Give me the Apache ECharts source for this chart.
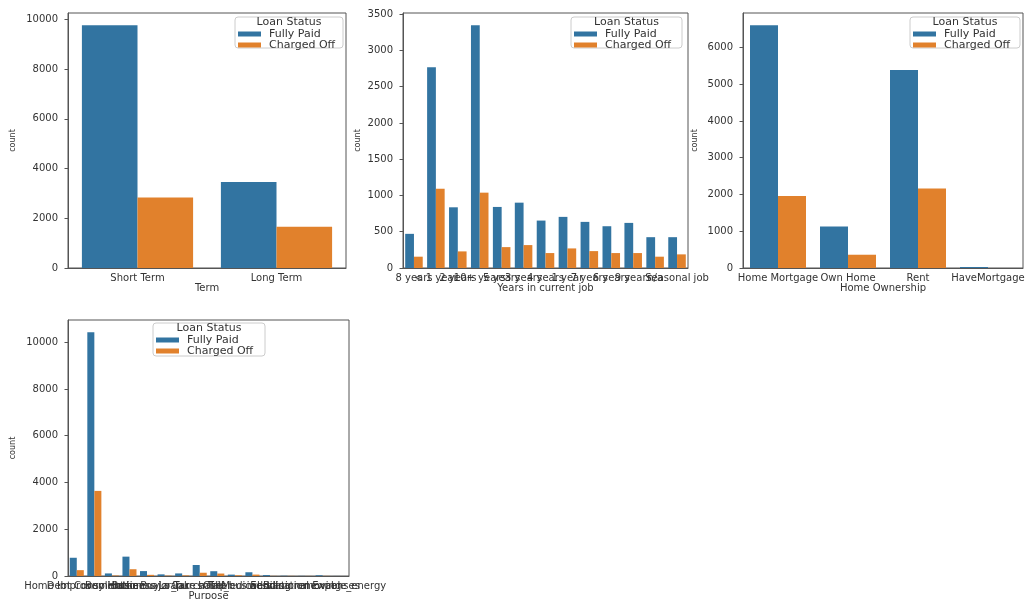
<!DOCTYPE html>
<html><head><meta charset="utf-8">
<script src="https://cdn.jsdelivr.net/npm/echarts@6/dist/echarts.min.js"></script>
<style>html,body{margin:0;padding:0;background:#fff}#c{width:1032px;height:599px}</style>
</head><body><div id="c"></div>
<script>
const statusNames = ['Fully Paid', 'Charged Off'];
const termCats = ['Short Term', 'Long Term'];
const termPaid = [9772, 3464];
const termOff = [2840, 1664];
const jobCats = ['8 years', '< 1 year', '2 years', '10+ years', '5 years', '3 years', '4 years', '1 year', '7 years', '6 years', '9 years', 'n/a', 'Seasonal job'];
const jobPaid = [471, 2768, 837, 3349, 842, 901, 654, 705, 636, 576, 622, 425, 425];
const jobOff = [156, 1093, 229, 1039, 288, 316, 206, 270, 233, 206, 206, 156, 188];
const homeCats = ['Home Mortgage', 'Own Home', 'Rent', 'HaveMortgage'];
const homePaid = [6605, 1128, 5386, 27];
const homeOff = [1958, 361, 2165, 0];
const purposeCats = ['Home Improvements', 'Debt Consolidation', 'Buy House', 'other', 'Business Loan', 'Buy a Car', 'major_purchase', 'Take a Trip', 'Other', 'small_business', 'Medical Bills', 'wedding', 'vacation', 'Educational Expenses', 'moving', 'renewable_energy'];
const purposePaid = [780, 10428, 110, 828, 210, 70, 110, 470, 205, 60, 160, 40, 10, 5, 30, 2];
const purposeOff = [250, 3640, 20, 290, 50, 15, 25, 140, 105, 30, 60, 5, 5, 3, 5, 0];
const termTicks = [0, 2000, 4000, 6000, 8000, 10000];
const jobTicks = [0, 500, 1000, 1500, 2000, 2500, 3000, 3500];
const homeTicks = [0, 1000, 2000, 3000, 4000, 5000, 6000];
const purposeTicks = [0, 2000, 4000, 6000, 8000, 10000];

const BLUE = '#3274a1', ORANGE = '#e1812c';
const FONT = 'DejaVu Sans';
const panels = [
  {cats: termCats, paid: termPaid, off: termOff, xname: 'Term', ticks: termTicks,
   grid: {left: 68, top: 13, width: 278, height: 255}, yGap: 51,
   leg: {x: 235, y: 17, w: 108, h: 31}},
  {cats: jobCats, paid: jobPaid, off: jobOff, xname: 'Years in current job', ticks: jobTicks,
   grid: {left: 403, top: 13, width: 285, height: 255}, yGap: 41,
   leg: {x: 571, y: 17, w: 111, h: 31}},
  {cats: homeCats, paid: homePaid, off: homeOff, xname: 'Home Ownership', ticks: homeTicks,
   grid: {left: 743, top: 13, width: 280, height: 255}, yGap: 44,
   leg: {x: 910, y: 17, w: 110, h: 31}},
  {cats: purposeCats, paid: purposePaid, off: purposeOff, xname: 'Purpose', ticks: purposeTicks,
   grid: {left: 68, top: 320, width: 281, height: 256}, yGap: 51,
   leg: {x: 153, y: 323, w: 112, h: 33}}
];

const grids = [], xAxes = [], yAxes = [], series = [], legends = [], graphics = [];
panels.forEach((p, i) => {
  grids.push(Object.assign({show: true, borderColor: '#555', borderWidth: 1, backgroundColor: 'transparent',
    containLabel: false, outerBoundsMode: 'none'}, p.grid));
  xAxes.push({
    type: 'category', gridIndex: i, data: p.cats,
    name: p.xname, nameLocation: 'middle', nameGap: 15,
    nameTextStyle: {fontFamily: FONT, fontSize: 10, color: '#333'},
    axisLine: {lineStyle: {color: '#555', width: 1}},
    axisTick: {alignWithLabel: true, length: 3.5, lineStyle: {color: '#555'}},
    axisLabel: {interval: 0, margin: 5, fontFamily: FONT, fontSize: 10, color: '#333', hideOverlap: false},
    splitLine: {show: false}
  });
  const maxV = Math.max(...p.paid, ...p.off) * 1.05;
  yAxes.push({
    type: 'value', gridIndex: i, min: 0, max: maxV,
    name: 'count', nameLocation: 'middle', nameGap: p.yGap, nameRotate: 90,
    nameTextStyle: {fontFamily: FONT, fontSize: 8, color: '#333'},
    axisLine: {show: true, lineStyle: {color: '#555', width: 1}},
    axisTick: {show: true, length: 3.5, lineStyle: {color: '#555'}, customValues: p.ticks},
    axisLabel: {margin: 10, fontFamily: FONT, fontSize: 10, color: '#333', customValues: p.ticks,
      formatter: v => String(Math.round(v))},
    splitLine: {show: false}
  });
  [[statusNames[0], p.paid, BLUE], [statusNames[1], p.off, ORANGE]].forEach(([nm, d, col]) => {
    series.push({
      type: 'bar', name: nm, xAxisIndex: i, yAxisIndex: i, data: d,
      barGap: '0%', barCategoryGap: '20%', itemStyle: {color: col},
      emphasis: {disabled: true}, animation: false
    });
  });
  const L = p.leg;
  graphics.push({
    type: 'rect', z: 100, shape: {x: L.x, y: L.y, width: L.w, height: L.h, r: 3},
    style: {fill: 'rgba(255,255,255,0.85)', stroke: '#cccccc', lineWidth: 1}
  });
  graphics.push({
    type: 'text', z: 101, x: L.x + L.w / 2, y: L.y + 5.5,
    style: {text: 'Loan Status', font: '11px "DejaVu Sans"', fill: '#333', align: 'center', verticalAlign: 'middle'}
  });
  legends.push({
    data: statusNames, orient: 'vertical', left: L.x + 3, top: L.y + 11.5, padding: 0, itemGap: 0,
    itemWidth: 23, itemHeight: 5, icon: 'rect', z: 102, selectedMode: false,
    textStyle: {fontFamily: FONT, fontSize: 11, color: '#333', lineHeight: 11, padding: [0, 0, 0, 3]}
  });
});

const chart = echarts.init(document.getElementById('c'), null, {renderer: 'canvas'});
chart.setOption({
  animation: false, backgroundColor: '#fff',
  color: [BLUE, ORANGE],
  grid: grids, xAxis: xAxes, yAxis: yAxes, series: series, legend: legends,
  graphic: graphics
});
</script></body></html>
